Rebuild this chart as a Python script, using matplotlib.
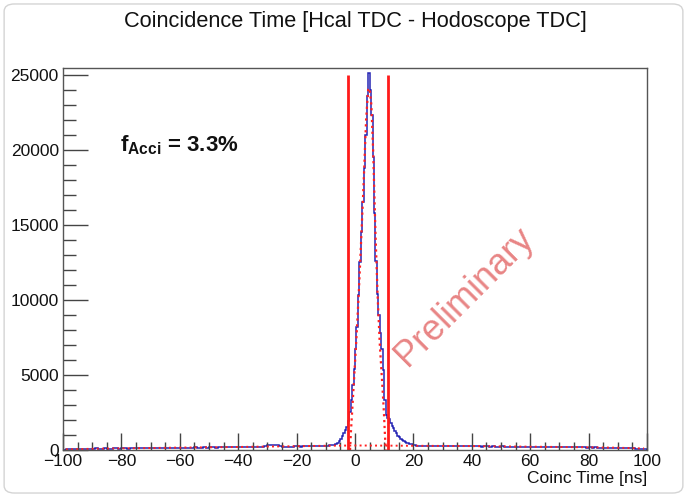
"""
Coincidence time histogram (Hcal TDC - Hodoscope TDC) with the
signal fit, accidental background and the selection window.
"""
import numpy as np
import matplotlib.pyplot as plt
from matplotlib.patches import FancyBboxPatch
from matplotlib.ticker import MultipleLocator

plt.rcParams['font.family'] = ['Liberation Sans', 'DejaVu Sans']
plt.rcParams['mathtext.fontset'] = 'custom'
plt.rcParams['mathtext.rm'] = 'Liberation Sans'
plt.rcParams['mathtext.bf'] = 'Liberation Sans:bold'

# 1 ns bins on the flat parts, 0.5 ns bins around the peak
edges_left = np.arange(-100, -6, 1.0)
edges_peak = np.arange(-6, 20, 0.5)
edges_right = np.arange(20, 101, 1.0)
bin_edges = np.concatenate([edges_left, edges_peak, edges_right])

counts_left = [
    20, 40, 50, 60, 70, 80, 70, 90, 80, 90, 80, 100, 90, 80, 100, 90, 80, 110, 100, 90,
    100, 110, 90, 120, 110, 100, 120, 130, 110, 130, 120, 130, 140, 130, 120, 140, 150, 130, 150, 140,
    150, 160, 140, 160, 150, 170, 160, 150, 170, 160, 180, 170, 160, 180, 190, 170, 190, 180, 190, 200,
    190, 200, 210, 190, 220, 210, 220, 210, 230, 270, 310, 340, 330, 300, 250, 220, 230, 220, 230, 240,
    240, 230, 250, 240, 260, 250, 240, 260, 270, 260, 280, 300, 330, 400,
]
counts_peak = [
    480, 580, 700, 900, 1100, 1300, 1550, 1900, 2500, 3300, 4300, 5400,
    6700, 8200, 10300, 12500, 14500, 16500, 18800, 21000, 23600, 25100,
    24000, 22300, 19500, 15800, 12600, 10400, 9000, 7800, 6700, 5300,
    3300, 2300, 2150, 2050, 1800, 1600, 1450, 1250, 1100, 950,
    850, 760, 680, 600, 540, 490, 450, 420, 390, 370,
]
counts_right = [
    300, 290, 280, 290, 270, 280, 260, 270, 280, 260, 270, 260, 250, 270, 260, 250, 260, 240, 250, 260,
    250, 240, 250, 230, 240, 250, 230, 240, 220, 230, 240, 220, 230, 210, 220, 230, 210, 220, 200, 210,
    210, 200, 210, 190, 200, 210, 190, 200, 180, 190, 200, 180, 190, 180, 170, 190, 180, 170, 180, 160,
    170, 160, 170, 150, 160, 150, 140, 150, 130, 140, 130, 120, 130, 110, 120, 100, 90, 80, 70, 60,
]
counts = counts_left + counts_peak + counts_right

# signal fit inside the coincidence window
fit_x = [-1.7, -1.4, -1.0, -0.3, 0.5, 1.3, 2.0, 3.0, 3.8, 4.5, 5.0, 5.6, 6.2, 7.0, 7.8, 8.5, 9.3, 9.9, 10.2, 10.5]
fit_y = [0, 1200, 2500, 4800, 7500, 10500, 13500, 18000, 22000, 24000, 24100, 23000, 20000, 14500, 10000, 7000, 4500, 2500, 1200, 0]

# accidental background
bg_x = [-99, -90, -80, -70, -60, -50, -40, -30, -20, -10, 0, 10, 20, 30, 40, 50, 60, 70, 80, 90, 99]
bg_y = [40, 80, 110, 130, 160, 180, 200, 230, 250, 280, 300, 290, 280, 270, 260, 240, 220, 200, 180, 150, 100]

# coincidence window cuts [ns]
cut_lo, cut_hi = -2.5, 11.2
cut_top = 25000
f_acci = 3.3

fig = plt.figure(figsize=(6.87, 4.97), dpi=100)
frame = FancyBboxPatch((0.006, 0.008), 0.988, 0.984, boxstyle='round,pad=0,rounding_size=0.015',
                       transform=fig.transFigure, facecolor='none', edgecolor='#d4d4d4', lw=1.0, zorder=-1)
fig.patches.append(frame)
ax = fig.add_axes([0.0917, 0.0946, 0.8501, 0.7686])

ax.stairs(counts, bin_edges, color='#2424b4', lw=1.1)
ax.plot(bg_x, bg_y, color='#ff2020', lw=1.4, ls=':')
ax.plot(fit_x, fit_y, color='#ff2020', lw=1.6, ls=':')
ax.vlines([cut_lo, cut_hi], 0, cut_top, color='#ff1a1a', lw=2.0)

ax.set_xlim(-100, 100)
ax.set_ylim(0, 25450)
ax.xaxis.set_major_locator(MultipleLocator(20))
ax.xaxis.set_minor_locator(MultipleLocator(5))
ax.yaxis.set_major_locator(MultipleLocator(5000))
ax.yaxis.set_minor_locator(MultipleLocator(1000))
ax.tick_params(which='both', direction='in', top=False, right=False, colors='#444444',
               labelcolor='#111111', labelsize=12.5, width=1.0)
ax.tick_params(axis='x', which='major', length=12, pad=3)
ax.tick_params(axis='x', which='minor', length=6)
ax.tick_params(axis='y', which='major', length=18, pad=3)
ax.tick_params(axis='y', which='minor', length=9)
for sp in ax.spines.values():
    sp.set_color('#555555')
    sp.set_linewidth(1.0)

ax.set_xlabel('Coinc Time [ns]', fontsize=12.5, color='#111111', loc='right', labelpad=1)
fig.text(0.517, 0.957, 'Coincidence Time [Hcal TDC - Hodoscope TDC]', ha='center', va='center',
         fontsize=15.7, color='#111111')

ax.text(-80.5, 20300, r'$\mathbf{f_{Acci}}$' + f' = {f_acci}%', fontsize=16, fontweight='bold',
        color='#111111', ha='left', va='center')
ax.text(37.5, 10200, 'Preliminary', rotation=45, fontsize=26, color='#e88585',
        ha='center', va='center', rotation_mode='anchor')

fig.savefig('out.png', dpi=100)
